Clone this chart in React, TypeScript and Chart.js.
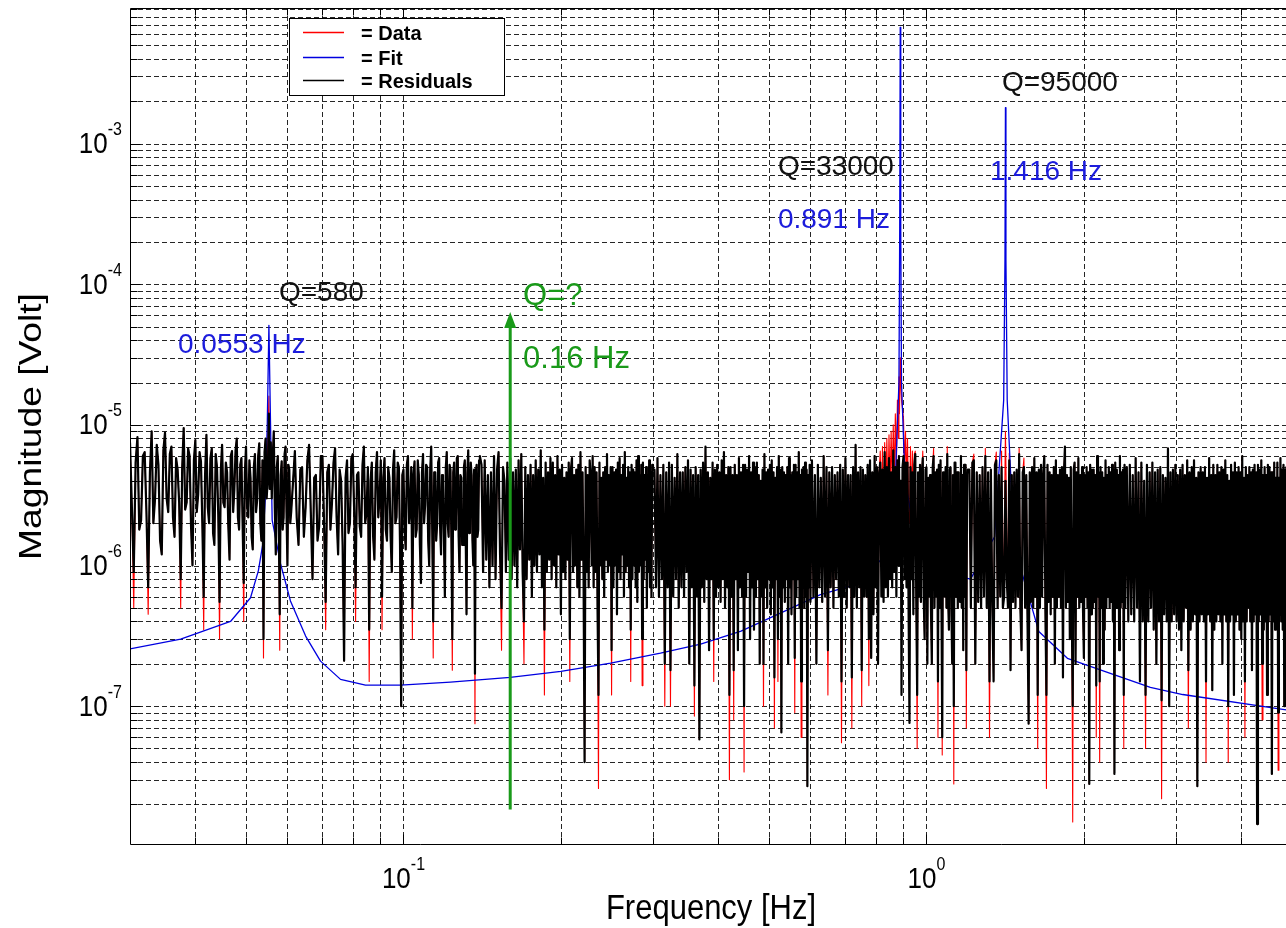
import React, { useEffect, useRef } from "react";
import { Chart, registerables } from "chart.js";

Chart.register(...registerables);

const W = 1300;
const H = 928;
const FONT = '"Liberation Sans", Arial, Helvetica, sans-serif';

const X_MIN = 0.03;
const X_MAX = 5;
const Y_MIN = 1.03e-8;
const Y_MAX = 9.2e-3;

// ---- Measured spectrum (frequency in mHz, magnitude in microvolt) ----
const A_FREQ_MHZ = [
  30, 30.25, 30.5, 30.75, 31, 31.25, 31.5, 31.75, 32, 32.25,
  32.5, 32.75, 33, 33.25, 33.5, 33.75, 34, 34.25, 34.5, 34.75,
  35, 35.25, 35.5, 35.75, 36, 36.25, 36.5, 36.75, 37, 37.25,
  37.5, 37.75, 38, 38.25, 38.5, 38.75, 39, 39.25, 39.5, 39.75,
  40, 40.25, 40.5, 40.75, 41, 41.25, 41.5, 41.75, 42, 42.25,
  42.5, 42.75, 43, 43.25, 43.5, 43.75, 44, 44.25, 44.5, 44.75,
  45, 45.25, 45.5, 45.75, 46, 46.25, 46.5, 46.75, 47, 47.25,
  47.5, 47.75, 48, 48.25, 48.5, 48.75, 49, 49.25, 49.5, 49.75,
  50, 50.25, 50.5, 50.75, 51, 51.25, 51.5, 51.75, 52, 52.25,
  52.5, 52.75, 53, 53.25, 53.5, 53.75, 54, 54.25, 54.5, 54.75,
  55, 55.3, 55.5, 55.75, 56, 56.25, 56.5, 56.75, 57, 57.25,
  57.5, 57.75, 58, 58.25, 58.5, 58.75, 59, 59.25, 59.5, 59.75,
  60, 60.25, 60.5, 60.75, 61,
];
const A_RESID_UV = [
  7.5, 2.6, 0.9, 5.4, 8.2, 1.8, 2.1, 6.0, 6.4, 2.4,
  0.7, 4.6, 9.0, 2.0, 3.0, 7.2, 5.2, 1.5, 1.2, 6.6,
  8.8, 3.0, 2.4, 6.2, 7.0, 2.2, 1.6, 5.8, 4.8, 2.8,
  0.8, 5.0, 9.5, 2.5, 2.8, 6.8, 6.0, 1.9, 1.0, 5.6,
  7.8, 2.4, 3.2, 6.4, 5.5, 2.0, 0.6, 4.4, 8.5, 2.6,
  2.0, 5.8, 6.8, 1.7, 1.4, 6.2, 5.0, 2.3, 0.55, 4.8,
  7.2, 2.8, 2.6, 5.4, 4.6, 1.9, 1.1, 6.0, 6.5, 2.4,
  3.5, 6.6, 8.0, 2.2, 1.8, 5.2, 5.8, 2.0, 0.75, 4.6,
  7.0, 2.6, 2.2, 5.6, 4.2, 1.6, 1.3, 5.0, 6.2, 2.4,
  2.9, 6.0, 7.4, 2.0, 1.5, 5.6, 0.3, 6.4, 8.0, 3.0,
  4.0, 12, 3.5, 7.5, 3.0, 6.0, 9.0, 2.6, 1.2, 5.0,
  6.0, 2.0, 0.45, 4.4, 5.5, 1.8, 2.2, 6.2, 7.0, 2.4,
  1.0, 5.2, 4.8, 2.0, 2.4,
];

const B_FREQ_MHZ = [
  62, 62.5, 63, 63.5, 64, 64.5, 65, 65.5, 66, 66.5,
  67, 67.5, 68, 68.5, 69, 69.5, 70, 70.5, 71, 71.5,
  72, 72.5, 73, 73.5, 74, 74.5, 75, 75.5, 76, 76.5,
  77, 77.5, 78, 78.5, 79, 79.5, 80, 80.5, 81, 81.5,
  82, 82.5, 83, 83.5, 84, 84.5, 85, 85.5, 86, 86.5,
  87, 87.5, 88, 88.5, 89, 89.5, 90, 90.5, 91, 91.5,
  92, 92.5, 93, 93.5, 94, 94.5, 95, 95.5, 96, 96.5,
  97, 97.5, 98, 98.5, 99, 99.5, 100, 100.5, 101, 101.5,
  102, 102.5, 103, 103.5, 104, 104.5, 105, 105.5, 106, 106.5,
  107, 107.5, 108, 108.5, 109, 109.5, 110, 110.5, 111, 111.5,
  112, 112.5, 113, 113.5, 114, 114.5, 115, 115.5, 116, 116.5,
  117, 117.5, 118, 118.5, 119, 119.5, 120, 120.5, 121, 121.5,
  122, 122.5, 123, 123.5, 124, 124.5, 125, 125.5, 126, 126.5,
  127, 127.5, 128, 128.5, 129, 129.5, 130, 130.5, 131, 131.5,
  132, 132.5, 133, 133.5, 134, 134.5, 135, 135.5, 136, 136.5,
  137, 137.5, 138, 138.5, 139, 139.5, 140,
];
const B_RESID_UV = [
  6.5, 2.2, 1.4, 4.8, 5.0, 1.6, 2.6, 5.6, 7.2, 2.4,
  0.8, 4.2, 4.4, 1.5, 1.9, 6.0, 6.0, 2.0, 0.55, 4.6,
  5.2, 1.8, 2.8, 5.4, 6.8, 2.2, 1.2, 4.8, 4.0, 1.4,
  0.21, 4.2, 5.6, 1.7, 2.0, 5.8, 6.2, 2.4, 0.7, 4.4,
  4.6, 1.9, 1.6, 5.2, 7.0, 2.0, 2.4, 5.0, 0.35, 4.0,
  5.4, 1.6, 1.1, 4.6, 6.4, 2.2, 3.0, 5.6, 0.6, 4.2,
  5.8, 1.8, 1.5, 5.0, 4.2, 1.6, 0.9, 4.8, 6.6, 2.0,
  2.2, 5.4, 5.0, 1.4, 0.1, 4.4, 4.8, 1.8, 1.3, 5.2,
  6.0, 2.0, 2.5, 5.0, 0.5, 4.4, 5.5, 1.6, 1.8, 5.6,
  4.4, 1.4, 0.75, 4.6, 6.2, 2.0, 2.7, 5.2, 5.0, 1.5,
  1.0, 4.8, 7.0, 1.8, 0.4, 4.6, 4.6, 1.5, 2.0, 5.4,
  5.8, 1.9, 1.2, 4.4, 3.8, 1.6, 0.6, 5.0, 6.4, 2.0,
  1.6, 5.2, 4.8, 1.5, 0.3, 4.6, 5.4, 1.8, 2.2, 5.8,
  6.0, 1.6, 0.9, 4.4, 4.2, 1.4, 1.4, 5.0, 5.6, 1.8,
  0.45, 4.6, 6.6, 1.7, 2.6, 5.4, 4.4, 1.5, 1.0, 4.8,
  0.17, 4.4, 5.2, 1.6, 1.8, 5.6, 6.0,
];

const C_FREQ_MHZ = [
  141, 142, 143, 144, 145, 146, 147, 148, 149, 150,
  151, 152, 153, 154, 155, 156, 157, 158, 159, 160,
  161, 162, 163, 164, 165, 166, 167, 168, 169, 170,
  171, 172, 173, 174, 175, 176, 177, 178, 179, 180,
  181, 182, 183, 184, 185, 186, 187, 188, 189, 190,
  191, 192, 193, 194, 195, 196, 197, 198, 199, 200,
  201, 202, 203, 204, 205, 206, 207, 208, 209, 210,
  211, 212, 213, 214, 215, 216, 217, 218, 219, 220,
  221, 222, 223, 224, 225, 226, 227, 228, 229, 230,
  231, 232, 233, 234, 235, 236, 237, 238, 239, 240,
  241, 242, 243, 244, 245, 246, 247, 248, 249, 250,
  251, 252, 253, 254, 255, 256, 257, 258, 259, 260,
  261, 262, 263, 264, 265, 266, 267, 268, 269, 270,
  271, 272, 273, 274, 275, 276, 277, 278, 279, 280,
  281, 282, 283, 284, 285, 286, 287, 288, 289, 290,
  291, 292, 293, 294, 295, 296, 297, 298, 299, 300,
];
const C_RESID_UV = [
  5.2, 0.9, 5.6, 1.1, 4.4, 0.7, 4.6, 1.0, 6.0, 0.8,
  4.8, 6.4, 1.2, 0.5, 5.0, 4.0, 0.9, 5.4, 1.1, 5.8,
  0.8, 4.6, 1.0, 4.8, 0.7, 5.6, 1.3, 6.2, 0.9, 0.4,
  5.0, 0.8, 4.4, 1.1, 5.2, 0.6, 4.4, 1.0, 5.6, 0.9,
  4.8, 1.2, 6.6, 0.7, 4.2, 0.35, 5.4, 0.9, 4.6, 1.1,
  5.8, 0.8, 5.4, 1.0, 4.4, 0.7, 6.0, 1.2, 4.8, 0.45,
  5.2, 0.9, 4.2, 0.8, 4.6, 1.1, 5.4, 0.3, 4.8, 5.8,
  0.9, 4.4, 1.0, 4.8, 0.7, 5.2, 0.6, 6.4, 1.1, 4.6,
  0.8, 0.04, 5.0, 0.9, 4.4, 0.7, 5.6, 4.4, 1.0, 6.0,
  0.7, 5.0, 0.9, 4.6, 0.5, 0.12, 5.4, 1.0, 4.2, 0.8,
  4.6, 0.6, 5.0, 1.1, 6.2, 0.9, 4.4, 1.0, 5.0, 0.25,
  5.0, 0.7, 4.6, 1.0, 4.8, 0.45, 5.4, 0.9, 5.8, 0.8,
  4.4, 1.2, 5.2, 0.6, 6.4, 0.9, 4.2, 1.0, 5.0, 0.7,
  4.6, 0.35, 5.2, 0.8, 4.8, 1.0, 4.6, 0.7, 5.6, 0.55,
  6.0, 0.9, 4.4, 1.0, 5.2, 0.3, 5.4, 0.8, 4.4, 1.1,
  5.0, 0.5, 4.4, 0.9, 5.6, 0.7, 4.6, 0.6, 5.2, 4.8,
];

const D_FREQ_MHZ = [
  302, 304, 306, 308, 310, 312, 314, 316, 318, 320,
  322, 324, 326, 328, 330, 332, 334, 336, 338, 340,
  342, 344, 346, 348, 350, 352, 354, 356, 358, 360,
  362, 364, 366, 368, 370, 372, 374, 376, 378, 380,
  382, 384, 386, 388, 390, 392, 394, 396, 398, 400,
  402, 404, 406, 408, 410, 412, 414, 416, 418, 420,
  422, 424, 426, 428, 430, 432, 434, 436, 438, 440,
  442, 444, 446, 448, 450, 452, 454, 456, 458, 460,
  462, 464, 466, 468, 470, 472, 474, 476, 478, 480,
  482, 484, 486, 488, 490, 492, 494, 496, 498, 500,
  502, 504, 506, 508, 510, 512, 514, 516, 518, 520,
  522, 524, 526, 528, 530, 532, 534, 536, 538, 540,
  542, 544, 546, 548, 550, 552, 554, 556, 558, 560,
  562, 564, 566, 568, 570, 572, 574, 576, 578, 580,
  582, 584, 586, 588, 590, 592, 594, 596, 598, 600,
];
const D_RESID_UV = [
  4.8, 0.7, 5.8, 0.6, 4.4, 0.8, 5.2, 0.2, 4.6, 0.7,
  5.4, 0.18, 5.2, 0.6, 4.2, 0.8, 6.2, 0.5, 4.6, 0.7,
  4.6, 0.6, 5.0, 0.9, 5.6, 0.2, 4.8, 0.7, 4.4, 0.14,
  5.0, 0.6, 4.4, 0.058, 4.8, 0.7, 5.4, 0.55, 7.0, 0.8,
  4.6, 0.25, 4.2, 0.8, 5.4, 0.3, 4.8, 0.6, 5.2, 0.7,
  4.6, 0.55, 5.6, 0.8, 6.4, 0.5, 4.4, 0.7, 5.0, 0.12,
  5.0, 0.6, 4.4, 0.18, 5.2, 0.8, 4.4, 0.25, 5.8, 0.7,
  4.6, 0.6, 5.2, 0.1, 5.2, 0.6, 4.8, 0.9, 6.0, 0.3,
  4.6, 0.7, 5.4, 0.35, 5.0, 0.6, 5.4, 0.8, 4.4, 0.2,
  4.0, 0.6, 4.8, 0.2, 6.2, 0.7, 4.6, 0.5, 4.8, 0.8,
  5.2, 0.45, 5.6, 0.7, 4.6, 0.16, 4.2, 0.8, 5.0, 0.3,
  6.0, 0.6, 4.8, 0.065, 5.0, 0.7, 4.6, 0.55, 4.4, 0.8,
  5.0, 0.2, 5.8, 0.7, 4.4, 0.45, 4.6, 0.8, 5.2, 0.22,
  5.2, 0.6, 4.6, 0.8, 6.4, 0.5, 4.4, 0.15, 4.8, 0.7,
  5.0, 0.5, 5.4, 0.6, 4.8, 0.027, 4.4, 0.7, 5.2, 0.55,
];

const E_FREQ_MHZ = [
  604, 608, 612, 616, 620, 624, 628, 632, 636, 640,
  644, 648, 652, 656, 660, 664, 668, 672, 676, 680,
  684, 688, 692, 696, 700, 704, 708, 712, 716, 720,
  724, 728, 732, 736, 740, 744, 748, 752, 756, 760,
  764, 768, 772, 776, 780, 784, 788, 792, 796, 800,
  804, 808, 812, 816, 820, 824, 828, 832, 836, 840,
  844, 848, 852, 856, 860, 864, 868, 872, 876, 880,
  884, 886, 888, 891, 894, 896, 900, 904, 908, 912,
  916, 920, 924, 928, 932, 936, 940, 944, 948, 952,
  956, 960, 964, 968, 972, 976, 980, 984, 988, 992,
  996, 1000, 1004, 1008, 1012, 1016, 1020, 1024, 1028, 1032,
  1036, 1040, 1044, 1048, 1052, 1056, 1060, 1064, 1068, 1072,
  1076, 1080, 1084, 1088, 1092, 1096, 1100, 1104, 1108, 1112,
  1116, 1120, 1124, 1128, 1132, 1136, 1140, 1144, 1148, 1152,
  1156, 1160, 1164, 1168, 1172, 1176, 1180, 1184, 1188, 1192,
  1196, 1200,
];
const E_RESID_UV = [
  5.6, 0.6, 4.4, 0.2, 5.2, 0.7, 4.2, 0.55, 6.0, 0.6,
  5.0, 0.25, 4.6, 0.7, 5.0, 0.5, 4.4, 0.8, 4.6, 0.6,
  5.2, 0.15, 4.8, 0.6, 5.8, 0.5, 4.4, 0.7, 4.4, 0.16,
  5.0, 0.6, 7.2, 0.5, 4.6, 0.7, 5.0, 0.18, 4.8, 0.6,
  4.4, 0.6, 5.2, 0.3, 5.6, 0.22, 4.6, 0.45, 6.0, 0.7,
  5.0, 0.2, 4.6, 5.4, 0.6, 4.8, 0.55, 6.4, 0.7, 5.0,
  0.6, 5.8, 0.8, 4.6, 0.7, 6.6, 0.9, 5.0, 0.6, 5.6,
  1.0, 6.0, 2.0, 4.0, 1.5, 0.12, 5.0, 6.0, 0.8, 5.4,
  0.7, 5.4, 0.6, 0.076, 5.0, 0.8, 4.6, 0.45, 5.2, 6.2,
  0.6, 0.12, 4.6, 0.6, 5.2, 0.55, 4.4, 5.8, 0.6, 0.3,
  4.8, 5.0, 0.2, 4.2, 0.6, 4.4, 0.5, 0.2, 5.0, 6.0,
  0.5, 4.6, 0.6, 4.8, 0.15, 5.2, 0.5, 5.6, 0.7, 0.06,
  4.6, 4.4, 0.6, 5.0, 0.5, 6.2, 0.6, 0.35, 4.8, 5.0,
  0.5, 0.2, 4.4, 0.1, 5.4, 5.4, 0.6, 4.6, 0.5, 4.6,
  0.6, 0.55, 6.0, 0.5, 4.4, 0.25, 5.2, 0.6, 5.2, 0.18,
  4.6, 4.8,
];

const F_FREQ_MHZ = [
  1208, 1216, 1224, 1232, 1240, 1248, 1256, 1264, 1272, 1280,
  1288, 1296, 1304, 1312, 1320, 1328, 1336, 1344, 1352, 1360,
  1368, 1376, 1384, 1392, 1400, 1408, 1416, 1424, 1432, 1440,
  1448, 1456, 1464, 1472, 1480, 1488, 1496, 1504, 1512, 1520,
  1528, 1536, 1544, 1552, 1560, 1568, 1576, 1584, 1592, 1600,
  1608, 1616, 1624, 1632, 1640, 1648, 1656, 1664, 1672, 1680,
  1688, 1696, 1704, 1712, 1720, 1728, 1736, 1744, 1752, 1760,
  1768, 1776, 1784, 1792, 1800, 1808, 1816, 1824, 1832, 1840,
  1848, 1856, 1864, 1872, 1880, 1888, 1896, 1904, 1912, 1920,
  1928, 1936, 1944, 1952, 1960, 1968, 1976, 1984, 1992, 2000,
  2008, 2016, 2024, 2032, 2040, 2048, 2056, 2064, 2072, 2080,
  2088, 2096, 2104, 2112, 2120, 2128, 2136, 2144, 2152, 2160,
  2168, 2176, 2184, 2192, 2200, 2208, 2216, 2224, 2232, 2240,
  2248, 2256, 2264, 2272, 2280, 2288, 2296, 2304, 2312, 2320,
  2328, 2336, 2344, 2352, 2360, 2368, 2376, 2384, 2392, 2400,
];
const F_RESID_UV = [
  4.8, 0.5, 5.4, 5.6, 0.2, 4.6, 0.55, 4.4, 0.5, 5.0,
  0.6, 6.0, 0.5, 4.6, 0.15, 4.8, 0.55, 0.15, 5.2, 5.6,
  0.5, 4.4, 0.6, 5.0, 0.5, 0.6, 4.0, 0.8, 0.5, 5.6,
  0.18, 4.4, 0.55, 4.6, 0.5, 4.8, 0.6, 6.2, 0.5, 0.25,
  4.6, 5.0, 0.5, 4.4, 0.45, 0.075, 4.6, 0.55, 5.0, 0.5,
  5.8, 0.6, 4.6, 0.12, 4.8, 0.5, 5.2, 0.6, 4.4, 6.0,
  0.5, 0.12, 5.2, 0.55, 4.6, 0.45, 4.4, 0.6, 5.0, 0.2,
  5.6, 0.5, 4.4, 0.6, 4.8, 0.5, 5.0, 0.16, 4.6, 7.0,
  0.5, 4.4, 0.55, 4.2, 0.3, 5.0, 0.5, 0.1, 4.8, 5.4,
  0.2, 4.6, 0.6, 5.8, 0.5, 4.4, 0.55, 5.0, 0.5, 0.22,
  4.4, 0.6, 5.0, 0.5, 4.6, 0.028, 5.2, 0.45, 4.8, 0.5,
  4.8, 0.55, 4.4, 0.14, 6.0, 0.6, 4.6, 0.15, 5.0, 0.5,
  4.6, 0.2, 4.2, 0.35, 5.6, 0.5, 4.4, 0.6, 5.0, 0.5,
  4.6, 0.55, 5.2, 0.4, 4.8, 0.033, 5.4, 0.5, 4.8, 0.5,
  4.4, 0.25, 6.0, 0.5, 4.6, 0.55, 4.8, 0.12, 5.2, 0.5,
];

const G_FREQ_MHZ = [
  2416, 2432, 2448, 2464, 2480, 2496, 2512, 2528, 2544, 2560,
  2576, 2592, 2608, 2624, 2640, 2656, 2672, 2688, 2704, 2720,
  2736, 2752, 2768, 2784, 2800, 2816, 2832, 2848, 2864, 2880,
  2896, 2912, 2928, 2944, 2960, 2976, 2992, 3008, 3024, 3040,
  3056, 3072, 3088, 3104, 3120, 3136, 3152, 3168, 3184, 3200,
  3216, 3232, 3248, 3264, 3280, 3296, 3312, 3328, 3344, 3360,
  3376, 3392, 3408, 3424, 3440, 3456, 3472, 3488, 3504, 3520,
  3536, 3552, 3568, 3584, 3600, 3616, 3632, 3648, 3664, 3680,
  3696, 3712, 3728, 3744, 3760, 3776, 3792, 3808, 3824, 3840,
  3856, 3872, 3888, 3904, 3920, 3936, 3952, 3968, 3984, 4000,
  4016, 4032, 4048, 4064, 4080, 4096, 4112, 4128, 4144, 4160,
  4176, 4192, 4208, 4224, 4240, 4256, 4272, 4288, 4304, 4320,
  4336, 4352, 4368, 4384, 4400, 4416, 4432, 4448, 4464, 4480,
  4496, 4512, 4528, 4544, 4560, 4576, 4592, 4608, 4624, 4640,
  4656, 4672, 4688, 4704, 4720, 4736, 4752, 4768, 4784, 4800,
  4816, 4832, 4848, 4864, 4880, 4896,
];
const G_RESID_UV = [
  5.0, 0.4, 5.2, 0.45, 4.4, 0.4, 5.8, 0.5, 4.6, 0.15,
  5.4, 0.4, 4.0, 0.12, 5.2, 0.4, 4.6, 0.5, 5.4, 0.35,
  4.6, 0.2, 4.8, 0.4, 5.0, 0.11, 4.4, 0.45, 4.2, 0.4,
  6.8, 0.1, 4.6, 0.4, 4.8, 0.45, 5.2, 0.4, 4.4, 0.35,
  4.8, 0.25, 5.2, 0.4, 4.4, 0.5, 5.6, 0.18, 4.6, 0.35,
  5.0, 0.4, 5.6, 0.45, 4.2, 0.027, 4.6, 0.4, 5.0, 0.45,
  4.6, 0.4, 5.0, 0.15, 4.2, 0.45, 5.8, 0.4, 4.4, 0.13,
  5.2, 0.35, 4.4, 0.4, 5.2, 0.45, 4.6, 0.4, 5.0, 0.2,
  4.8, 0.45, 5.6, 0.4, 4.4, 0.1, 4.0, 0.4, 5.2, 0.45,
  4.6, 0.12, 5.4, 0.4, 4.6, 0.45, 5.0, 0.35, 4.6, 0.3,
  6.0, 0.4, 4.2, 0.15, 5.0, 0.4, 4.4, 0.5, 5.0, 0.4,
  4.6, 0.18, 4.8, 0.4, 5.2, 0.45, 4.6, 0.0145, 5.2, 0.4,
  4.8, 0.45, 5.6, 0.2, 4.4, 0.35, 5.0, 0.4, 4.4, 0.12,
  5.2, 0.4, 5.0, 0.45, 4.6, 0.033, 4.6, 0.4, 5.4, 0.35,
  4.2, 0.4, 5.4, 0.09, 4.2, 0.45, 5.8, 0.4, 4.8, 0.35,
  5.2, 0.1, 4.8, 0.4, 5.0, 0.4,
];

// Bins where the measured data (red) differs visibly from the residuals: [mHz, microvolt]
const DATA_DIFF_UV: [number, number][] = [
  [30.5, 0.5], [32.5, 0.45], [37.5, 0.5], [41.5, 0.35], [44.5, 0.3], [49.5, 0.4],
  [54, 0.22], [55, 7], [55.3, 16], [56, 5], [58, 0.25],
  [71, 0.35], [81, 0.4], [86, 0.15], [91, 0.35], [104, 0.3], [114, 0.22], [124, 0.18], [137, 0.075],
  [154, 0.25], [170, 0.2], [186, 0.12], [208, 0.15], [236, 0.026], [250, 0.12], [272, 0.15], [286, 0.14],
  [316, 0.1], [324, 0.1], [360, 0.085], [392, 0.15], [420, 0.03], [428, 0.08], [448, 0.034], [488, 0.1],
  [512, 0.07], [520, 0.15], [560, 0.09], [576, 0.06],
  [648, 0.12], [688, 0.055], [720, 0.07], [752, 0.1], [776, 0.14],
  [816, 6.5], [820, 2.5], [824, 7.0], [828, 2.5], [832, 7.5], [836, 3.0], [840, 8.0], [844, 3.0],
  [848, 8.5], [852, 3.5], [856, 9.0], [860, 3.5], [864, 10], [868, 4.0], [872, 12], [876, 5.0],
  [880, 15], [884, 8.0], [886, 22], [888, 12], [891, 30], [894, 18], [896, 15], [900, 13],
  [904, 11], [908, 5.0], [912, 9.0], [916, 4.0], [920, 8.0], [924, 3.0], [928, 2.0], [932, 7.0],
  [936, 2.5], [940, 6.5], [944, 1.5], [948, 6.2], [952, 6.5],
  [960, 0.05], [984, 6.5], [1032, 6.8], [1052, 0.06], [1072, 0.045], [1096, 7.0], [1128, 0.028], [1192, 0.07],
  [1232, 6.2], [1296, 6.8], [1320, 0.06], [1360, 6.4], [1392, 6.5], [1408, 1.5], [1416, 9], [1424, 2.0],
  [1440, 6.3], [1504, 6.8], [1536, 5.8], [1632, 0.05], [1696, 0.026], [1904, 0.015], [2112, 0.06],
  [2144, 0.04], [2384, 0.05],
  [2624, 0.05], [2816, 0.022], [3168, 0.07], [3424, 0.04], [3776, 0.04], [4064, 0.06], [4384, 0.08],
  [4704, 0.035],
];

// Fit curve (Hz, Volt)
const FIT_FREQ_HZ = [
  0.03, 0.0375, 0.0467, 0.051, 0.0528, 0.0538, 0.0544, 0.0549, 0.0553, 0.0557,
  0.0561, 0.0582, 0.0608, 0.065, 0.0694, 0.0758, 0.0846, 0.0987, 0.123, 0.16,
  0.2, 0.249, 0.31, 0.37, 0.442, 0.527, 0.627, 0.748, 0.835, 0.872,
  0.886, 0.889, 0.891, 0.893, 0.896, 0.91, 0.952, 1.064, 1.214, 1.35,
  1.405, 1.413, 1.416, 1.419, 1.427, 1.47, 1.64, 1.86, 2.68, 3.09,
  4.8, 5.0,
];
const FIT_VOLT = [
  2.55e-7, 3.0e-7, 4.0e-7, 5.9e-7, 9.2e-7, 1.4e-6, 2.9e-6, 1.0e-5, 5.1e-5, 1.0e-5,
  2.1e-6, 1.03e-6, 5.6e-7, 3.15e-7, 2.09e-7, 1.55e-7, 1.41e-7, 1.41e-7, 1.48e-7, 1.6e-7,
  1.77e-7, 2.02e-7, 2.38e-7, 2.76e-7, 3.42e-7, 4.6e-7, 6.2e-7, 7.5e-7, 1.2e-6, 4.0e-6,
  2.0e-5, 2.5e-4, 6.7e-3, 2.5e-4, 2.0e-5, 4e-6, 1.6e-6, 9e-7, 8e-7, 1.6e-6,
  1.5e-5, 1.5e-4, 1.8e-3, 1.5e-4, 1.5e-5, 1.4e-6, 3.4e-7, 2.19e-7, 1.36e-7, 1.21e-7,
  9.5e-8, 9.3e-8,
];

// Text annotations anchored in data coordinates (left edge frequency, baseline magnitude)
const ANNOTATIONS: { text: string; f: number; v: number; color: string; size: number }[] = [
  { text: "Q=580", f: 0.0578, v: 7.6e-5, color: "#111111", size: 28 },
  { text: "0.0553 Hz", f: 0.03706, v: 3.24e-5, color: "#1c1cdc", size: 28 },
  { text: "Q=33000", f: 0.52, v: 5.98e-4, color: "#111111", size: 28 },
  { text: "0.891 Hz", f: 0.52, v: 2.51e-4, color: "#1c1cdc", size: 28 },
  { text: "Q=95000", f: 1.394, v: 2.364e-3, color: "#111111", size: 28 },
  { text: "1.416 Hz", f: 1.323, v: 5.51e-4, color: "#1c1cdc", size: 28 },
  { text: "Q=?", f: 0.1693, v: 7.12e-5, color: "#1a9a1a", size: 31 },
  { text: "0.16 Hz", f: 0.1693, v: 2.54e-5, color: "#1a9a1a", size: 31 },
];

// Green arrow marking the unseen 0.16 Hz mode
const ARROW_FREQ_HZ = 0.16;
const ARROW_FROM_V = 1.84e-8;
const ARROW_TO_V = 6.34e-5;

const SERIES_LABELS = ["Residuals", "Fit", "Data"];
const SERIES_COLORS = ["#000000", "#0000e0", "#ff0000"];

function buildSeries() {
  const freqMHz = ([] as number[]).concat(
    A_FREQ_MHZ, B_FREQ_MHZ, C_FREQ_MHZ, D_FREQ_MHZ, E_FREQ_MHZ, F_FREQ_MHZ, G_FREQ_MHZ
  );
  const residUV = ([] as number[]).concat(
    A_RESID_UV, B_RESID_UV, C_RESID_UV, D_RESID_UV, E_RESID_UV, F_RESID_UV, G_RESID_UV
  );
  const n = Math.min(freqMHz.length, residUV.length);
  const diff = new Map<number, number>(DATA_DIFF_UV);
  const resid: { x: number; y: number }[] = [];
  const data: { x: number; y: number }[] = [];
  for (let i = 0; i < n; i++) {
    const m = freqMHz[i];
    resid.push({ x: m / 1000, y: residUV[i] * 1e-6 });
    const d = diff.has(m) ? (diff.get(m) as number) : residUV[i];
    data.push({ x: m / 1000, y: d * 1e-6 });
  }
  const fit = FIT_FREQ_HZ.map((f, i) => ({ x: f, y: FIT_VOLT[i] }));
  return { resid, data, fit };
}

function drawText(
  ctx: CanvasRenderingContext2D,
  s: string,
  x: number,
  y: number,
  font: string,
  color: string,
  align: CanvasTextAlign,
  sx = 1,
  sy = 1,
  rot = 0
) {
  ctx.save();
  ctx.translate(x, y);
  if (rot) ctx.rotate(rot);
  ctx.scale(sx, sy);
  ctx.font = font;
  ctx.fillStyle = color;
  ctx.textAlign = align;
  ctx.textBaseline = "alphabetic";
  ctx.fillText(s, 0, 0);
  ctx.restore();
}

function logGrid(min: number, max: number) {
  const out: number[] = [];
  const e0 = Math.floor(Math.log10(min));
  const e1 = Math.ceil(Math.log10(max));
  for (let e = e0; e <= e1; e++) {
    for (let m = 1; m <= 9; m++) {
      const v = m * Math.pow(10, e);
      if (v > min * 1.0001 && v < max / 1.0001) out.push(v);
    }
  }
  return out;
}

function decades(min: number, max: number) {
  const out: number[] = [];
  for (let e = Math.ceil(Math.log10(min)); e <= Math.floor(Math.log10(max)); e++) out.push(e);
  return out;
}

function isDecade(v: number) {
  return Math.abs(Math.log10(v) - Math.round(Math.log10(v))) < 1e-9;
}

function powerLabel(
  ctx: CanvasRenderingContext2D,
  exp: number,
  anchorX: number,
  baseY: number,
  expY: number,
  align: "center" | "right"
) {
  const baseFont = `26px ${FONT}`;
  const expFont = `16px ${FONT}`;
  const expStr = String(exp);
  ctx.save();
  ctx.font = baseFont;
  const wb = ctx.measureText("10").width;
  ctx.font = expFont;
  const we = ctx.measureText(expStr).width;
  ctx.restore();
  const left = align === "center" ? anchorX - (wb + we) / 2 : anchorX - (wb + we);
  drawText(ctx, "10", left, baseY, baseFont, "#000", "left", 1, 1.15);
  drawText(ctx, expStr, left + wb, expY, expFont, "#000", "left", 1, 1.15);
}

const matlabPlugin = {
  id: "matlabLook",
  beforeDatasetsDraw(chart: any) {
    const { ctx, chartArea: a, scales } = chart;
    const xs = scales.x;
    const ys = scales.y;
    ctx.save();
    ctx.strokeStyle = "rgba(0,0,0,0.85)";
    ctx.lineWidth = 1;
    ctx.setLineDash([5, 3]);
    for (const v of logGrid(xs.min, xs.max)) {
      const px = Math.round(xs.getPixelForValue(v)) + 0.5;
      ctx.beginPath();
      ctx.moveTo(px, a.top);
      ctx.lineTo(px, a.bottom);
      ctx.stroke();
    }
    for (const v of logGrid(ys.min, ys.max)) {
      const py = Math.round(ys.getPixelForValue(v)) + 0.5;
      ctx.beginPath();
      ctx.moveTo(a.left, py);
      ctx.lineTo(a.right, py);
      ctx.stroke();
    }
    ctx.restore();
  },
  afterDatasetsDraw(chart: any) {
    const { ctx, chartArea: a, scales } = chart;
    const xs = scales.x;
    const ys = scales.y;

    // green arrow
    {
      const px = xs.getPixelForValue(ARROW_FREQ_HZ);
      const y0 = ys.getPixelForValue(ARROW_FROM_V);
      const y1 = ys.getPixelForValue(ARROW_TO_V);
      ctx.save();
      ctx.strokeStyle = "#1a9a1a";
      ctx.fillStyle = "#1a9a1a";
      ctx.lineWidth = 3;
      ctx.beginPath();
      ctx.moveTo(px, y0);
      ctx.lineTo(px, y1 + 12);
      ctx.stroke();
      ctx.beginPath();
      ctx.moveTo(px, y1);
      ctx.lineTo(px - 6, y1 + 16);
      ctx.lineTo(px + 6, y1 + 16);
      ctx.closePath();
      ctx.fill();
      ctx.restore();
    }

    // annotations
    for (const an of ANNOTATIONS) {
      const px = xs.getPixelForValue(an.f);
      const py = ys.getPixelForValue(an.v);
      drawText(ctx, an.text, px, py, `${an.size}px ${FONT}`, an.color, "left");
    }

    // frame + inward ticks
    ctx.save();
    ctx.strokeStyle = "#000";
    ctx.lineWidth = 1;
    const L = Math.round(a.left) + 0.5;
    const R = Math.round(a.right) - 0.5;
    const T = Math.round(a.top) + 0.5;
    const B = Math.round(a.bottom) - 0.5;
    ctx.beginPath();
    ctx.moveTo(L, T);
    ctx.lineTo(R, T);
    ctx.lineTo(R, B);
    ctx.lineTo(L, B);
    ctx.closePath();
    ctx.stroke();
    ctx.beginPath();
    for (const v of logGrid(xs.min, xs.max)) {
      const px = Math.round(xs.getPixelForValue(v)) + 0.5;
      const len = isDecade(v) ? 10 : 7;
      ctx.moveTo(px, B);
      ctx.lineTo(px, B - len);
      ctx.moveTo(px, T);
      ctx.lineTo(px, T + len);
    }
    for (const v of logGrid(ys.min, ys.max)) {
      const py = Math.round(ys.getPixelForValue(v)) + 0.5;
      const len = isDecade(v) ? 10 : 7;
      ctx.moveTo(L, py);
      ctx.lineTo(L + len, py);
    }
    ctx.stroke();
    ctx.restore();

    // tick labels
    for (const e of decades(xs.min, xs.max)) {
      const px = xs.getPixelForValue(Math.pow(10, e));
      powerLabel(ctx, e, px, a.bottom + 43, a.bottom + 25, "center");
    }
    for (const e of decades(ys.min, ys.max)) {
      const py = ys.getPixelForValue(Math.pow(10, e));
      powerLabel(ctx, e, a.left - 8, py + 9.5, py - 8.5, "right");
    }

    // axis titles
    drawText(ctx, "Frequency [Hz]", (a.left + 1292) / 2, a.bottom + 74, `31px ${FONT}`, "#000", "center", 1, 1.12);
    drawText(ctx, "Magnitude [Volt]", 41, (a.top + a.bottom) / 2, `31px ${FONT}`, "#000", "center", 1.2, 1, -Math.PI / 2);

    // legend
    const lx = a.left + 159;
    const ly = a.top + 10;
    const lw = 215;
    const lh = 77;
    ctx.save();
    ctx.fillStyle = "#fff";
    ctx.fillRect(lx, ly, lw, lh);
    ctx.strokeStyle = "#000";
    ctx.lineWidth = 1;
    ctx.strokeRect(lx + 0.5, ly + 0.5, lw, lh);
    const rows = [2, 1, 0];
    const rowY = [14, 39, 62];
    rows.forEach((di, k) => {
      const ds = chart.data.datasets[di];
      const y = ly + rowY[k] + 0.5;
      ctx.strokeStyle = ds.borderColor;
      ctx.lineWidth = 1.5;
      ctx.beginPath();
      ctx.moveTo(lx + 14, y);
      ctx.lineTo(lx + 55, y);
      ctx.stroke();
      drawText(ctx, "= " + ds.label, lx + 72, y + 7, `bold 20px ${FONT}`, "#000", "left");
    });
    ctx.restore();
  },
};

export default function App() {
  const ref = useRef<HTMLCanvasElement | null>(null);
  useEffect(() => {
    if (!ref.current) return;
    const { resid, data, fit } = buildSeries();
    const chart = new Chart(ref.current, {
      type: "line",
      data: {
        datasets: [
          {
            label: SERIES_LABELS[0],
            data: resid,
            borderColor: SERIES_COLORS[0],
            borderWidth: 2.2,
            pointRadius: 0,
            tension: 0,
            borderJoinStyle: "round",
          },
          {
            label: SERIES_LABELS[1],
            data: fit,
            borderColor: SERIES_COLORS[1],
            borderWidth: 1.3,
            pointRadius: 0,
            tension: 0,
            borderJoinStyle: "round",
          },
          {
            label: SERIES_LABELS[2],
            data: data,
            borderColor: SERIES_COLORS[2],
            borderWidth: 1.1,
            pointRadius: 0,
            tension: 0,
            borderJoinStyle: "round",
          },
        ],
      } as any,
      options: {
        animation: false,
        responsive: false,
        parsing: false,
        normalized: true,
        events: [],
        layout: { padding: { top: 8, right: 8, left: 0, bottom: 0 } },
        plugins: { legend: { display: false }, tooltip: { enabled: false } },
        scales: {
          x: {
            type: "logarithmic",
            min: X_MIN,
            max: X_MAX,
            ticks: { display: false },
            grid: { display: false },
            border: { display: false },
            afterFit: (s: any) => {
              s.height = 83;
            },
          },
          y: {
            type: "logarithmic",
            min: Y_MIN,
            max: Y_MAX,
            ticks: { display: false },
            grid: { display: false },
            border: { display: false },
            afterFit: (s: any) => {
              s.width = 130;
            },
          },
        },
      } as any,
      plugins: [matlabPlugin as any],
    });
    return () => chart.destroy();
  }, []);
  return (
    <div style={{ position: "fixed", left: 0, top: 0, width: W, height: H, background: "#fff" }}>
      <canvas ref={ref} width={W} height={H} style={{ display: "block", width: W, height: H }} />
    </div>
  );
}
